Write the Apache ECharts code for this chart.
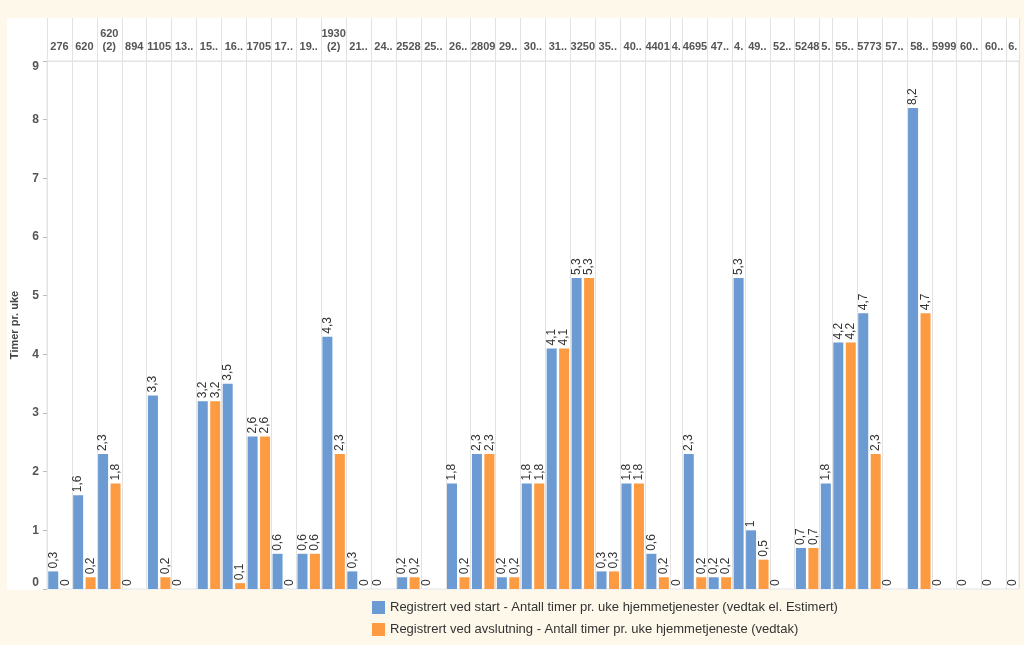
<!DOCTYPE html>
<html>
<head>
<meta charset="utf-8">
<script src="https://cdn.jsdelivr.net/npm/echarts@6/dist/echarts.min.js"></script>
<style>
html,body{margin:0;padding:0;background:#fdf8ea;}
#c{width:1024px;height:645px;}
</style>
</head>
<body>
<div id="c"></div>
<script>
// Column headers (IDs)
const ids = ['276','620','620\n(2)','894','1105','13..','15..','16..','1705','17..','19..','1930\n(2)',
  '21..','24..','2528','25..','26..','2809','29..','30..','31..','3250','35..','40..','4401','4.',
  '4695','47..','4.','49..','52..','5248','5.','55..','5773','57..','58..','5999','60..','60..','6.'];
// Registrert ved start (blue)
const startVals = [0.3,1.6,2.3,0,3.3,0,3.2,3.5,2.6,0.6,0.6,4.3,
  0.3,0,0.2,0,1.8,2.3,0.2,1.8,4.1,5.3,0.3,1.8,0.6,0,
  2.3,0.2,5.3,1,0,0.7,1.8,4.2,4.7,0,8.2,0,0,0,0];
// Registrert ved avslutning (orange)
const endVals = [0,0.2,1.8,null,0.2,null,3.2,0.1,2.6,0,0.6,2.3,
  0,null,0.2,null,0.2,2.3,0.2,1.8,4.1,5.3,0.3,1.8,0.2,null,
  0.2,0.2,null,0.5,null,0.7,null,4.2,2.3,null,4.7,null,null,null,null];
// Number of bar slots in each column
const slotCount = [2,2,2,2,2,2,2,2,2,2,2,2,
  2,2,2,2,2,2,2,2,2,2,2,2,2,1,
  2,2,1,2,2,2,1,2,2,2,2,2,2,2,1];
const yTicks = [0,9,1];

const nameStart = 'Registrert ved start - Antall timer pr. uke hjemmetjenester (vedtak el. Estimert)';
const nameEnd = 'Registrert ved avslutning - Antall timer pr. uke hjemmetjeneste (vedtak)';

const slotCats = [], blueData = [], orangeData = [], bounds = [0], centers = [], centerLabel = {};
ids.forEach((id, i) => {
  const start = slotCats.length;
  if (slotCount[i] === 2) {
    slotCats.push('s' + slotCats.length); blueData.push(startVals[i]); orangeData.push(null);
    slotCats.push('s' + slotCats.length); blueData.push(null); orangeData.push(endVals[i]);
  } else {
    slotCats.push('s' + slotCats.length);
    if (startVals[i] !== null) { blueData.push(startVals[i]); orangeData.push(null); }
    else { blueData.push(null); orangeData.push(endVals[i]); }
  }
  const c = start + slotCount[i] / 2;
  centers.push(c);
  centerLabel[String(c)] = id;
  bounds.push(slotCats.length);
});
const totalSlots = slotCats.length;

const FONT = '"Liberation Sans", Arial, sans-serif';
const GRID = '#e2e2e2';
const valLabel = {
  show: true, position: 'top', rotate: 90, align: 'left', verticalAlign: 'middle', distance: 3,
  fontSize: 12, color: '#333', fontFamily: FONT,
  formatter: p => String(p.value).replace('.', ',')
};

const chart = echarts.init(document.getElementById('c'), null, {renderer: 'canvas'});
chart.setOption({
  backgroundColor: '#fdf8ea',
  animation: false,
  textStyle: {fontFamily: FONT},
  graphic: {elements: [{type: 'rect', z: -100, left: 7, top: 18, shape: {width: 1013, height: 572}, style: {fill: '#ffffff'}}]},
  grid: {left: 47, right: 5, top: 61, bottom: 56, show: true, borderColor: GRID, borderWidth: 1, backgroundColor: 'transparent'},
  legend: {
    orient: 'vertical', left: 367, top: 596, itemWidth: 13, itemHeight: 13, itemGap: 9, icon: 'rect',
    textStyle: {fontSize: 13, color: '#333', fontFamily: FONT},
    data: [nameStart, nameEnd]
  },
  xAxis: [
    {type: 'category', data: slotCats, show: false},
    {
      type: 'value', position: 'top', min: 0, max: totalSlots,
      axisLine: {show: true, lineStyle: {color: GRID}},
      axisTick: {show: true, length: 43, customValues: bounds, lineStyle: {color: GRID}},
      splitLine: {show: true, lineStyle: {color: GRID}},
      axisLabel: {
        customValues: centers, hideOverlap: false, showMinLabel: true, showMaxLabel: true,
        margin: 8, fontSize: 11, fontWeight: 'bold', color: '#555', lineHeight: 13,
        formatter: v => centerLabel[String(v)] || ''
      }
    }
  ],
  yAxis: {
    type: 'value', min: yTicks[0], max: yTicks[1], interval: yTicks[2],
    name: 'Timer pr. uke', nameLocation: 'middle', nameRotate: 90, nameGap: 27,
    nameTextStyle: {fontSize: 11, fontWeight: 'bold', color: '#444'},
    axisLine: {show: true, lineStyle: {color: GRID}},
    axisTick: {show: true, length: 4, lineStyle: {color: '#bbb'}},
    axisLabel: {fontSize: 12, fontWeight: 'bold', color: '#555', margin: 8,
      verticalAlignMinLabel: 'bottom', verticalAlignMaxLabel: 'top'},
    splitLine: {show: false}
  },
  series: [
    {type: 'bar', name: nameStart, xAxisIndex: 0, data: blueData, barWidth: 10, barGap: '-100%',
     itemStyle: {color: '#6b9bd2'}, label: valLabel},
    {type: 'bar', name: nameEnd, xAxisIndex: 0, data: orangeData, barWidth: 10, barGap: '-100%',
     itemStyle: {color: '#fc9b42'}, label: valLabel}
  ]
});
</script>
</body>
</html>
